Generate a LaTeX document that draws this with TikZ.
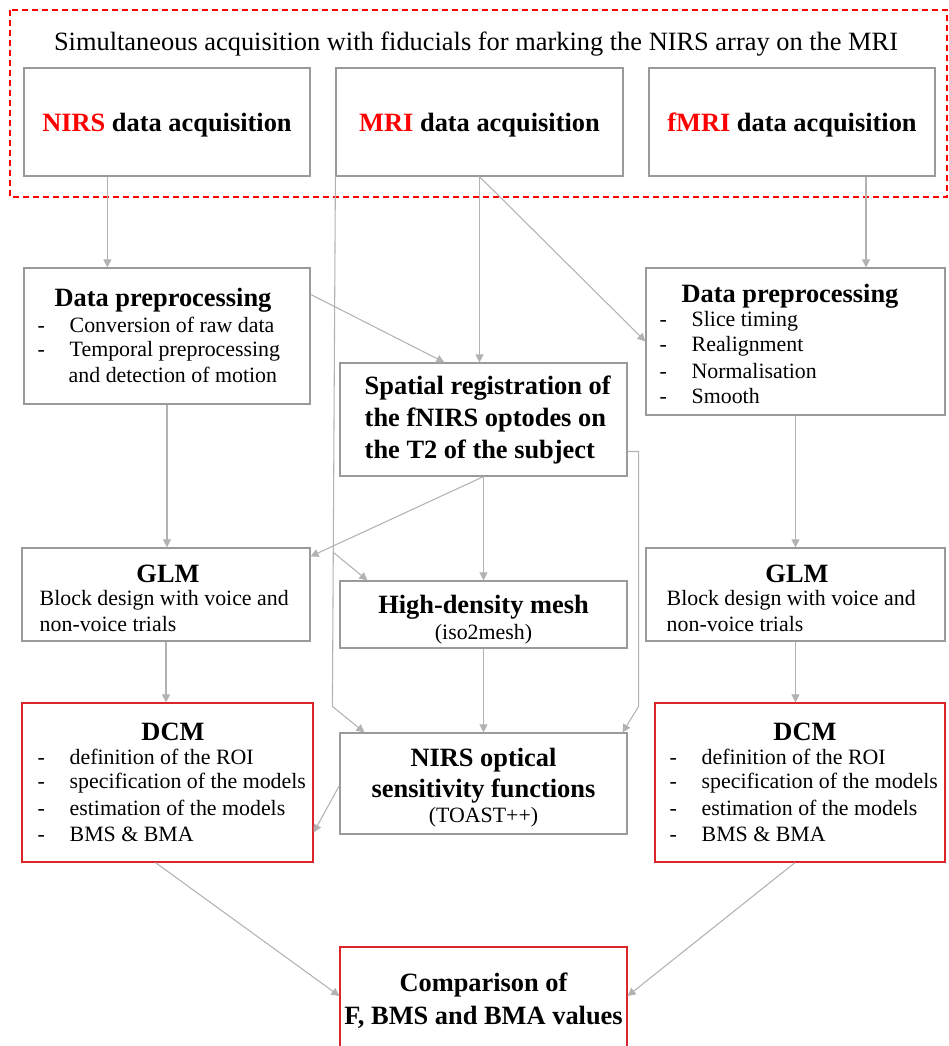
\documentclass[tikz,border=0pt]{standalone}
\usepackage{fontspec}
\setmainfont{Liberation Serif}
\usetikzlibrary{arrows.meta,calc}
\definecolor{boxgray}{HTML}{9A9A9A}
\definecolor{linegray}{HTML}{B2B2B2}
\definecolor{hired}{HTML}{FF0000}
\definecolor{boxred}{HTML}{D9262B}
\newcommand{\bul}{\makebox[24pt][l]{-}}
\tikzset{
  box/.style n args={2}{draw=boxgray, line width=0.9pt, minimum width=#1*0.75pt, minimum height=#2*0.75pt, inner sep=0pt},
  redbox/.style n args={2}{box={#1}{#2}, draw=boxred},
  link/.style={draw=linegray, line width=0.8pt, ->, >={Triangle[length=6pt,width=6pt]}},
  headfont/.style={font=\fontsize{19.8}{23}\selectfont\bfseries},
  head/.style={headfont, yshift=-2.2pt},
  item/.style={font=\fontsize{16.4}{19}\selectfont, anchor=west},
  plain/.style={font=\fontsize{16.4}{19}\selectfont, yshift=-1.2pt},
}
\begin{document}
\begin{tikzpicture}[x=0.75pt,y=-0.75pt]
  \clip (0,0) rectangle (949,1046);
  % simultaneous acquisition
  \draw[hired, line width=1pt, dash pattern=on 4.5pt off 3pt] (10,10) rectangle (947,197);
  \node[font=\fontsize{19.8}{24}\selectfont] (title) at (476,44.5) {Simultaneous acquisition with fiducials for marking the NIRS array on the MRI};
  \node[box={286}{108}, headfont, text depth=0pt] (nacq) at (167,122) {\textcolor{hired}{NIRS} data acquisition};
  \node[box={287}{108}, headfont, text depth=0pt] (macq) at (479.5,122) {\textcolor{hired}{MRI} data acquisition};
  \node[box={286}{108}, headfont, text depth=0pt] (facq) at (792,122) {\textcolor{hired}{fMRI} data acquisition};

  % preprocessing
  \node[box={286}{136}] (ndp) at (167,336) {};
  \node[head] at (163,297) {Data preprocessing};
  \node[item] at (33,325) {\bul Conversion of raw data};
  \node[item] at (33,351) {\bul Temporal preprocessing};
  \node[item] at (64,375) {and detection of motion};

  \node[box={287}{113}] (sreg) at (483.5,419.5) {};
  \node[head, anchor=west] at (360,385) {Spatial registration of};
  \node[head, anchor=west] at (360,417) {the fNIRS optodes on};
  \node[head, anchor=west] at (360,449) {the T2 of the subject};

  \node[box={299}{147}] (fdp) at (795.5,341.5) {};
  \node[head] at (790,293) {Data preprocessing};
  \node[item] at (655,321) {\bul Slice timing};
  \node[item] at (655,346) {\bul Realignment};
  \node[item] at (655,371) {\bul Normalisation};
  \node[item] at (655,396) {\bul Smooth};

  % GLM
  \node[box={288}{93}] (nglm) at (166,594.5) {};
  \node[head] at (168,571) {GLM};
  \node[item] at (35,600) {Block design with voice and};
  \node[item] at (35,624) {non-voice trials};

  \node[box={287}{67}] (mesh) at (483.5,614.5) {};
  \node[head] at (483.5,604) {High-density mesh};
  \node[plain] at (483.5,633) {(iso2mesh)};

  \node[box={299}{93}] (fglm) at (795.5,594.5) {};
  \node[head] at (797,571) {GLM};
  \node[item] at (662,600) {Block design with voice and};
  \node[item] at (662,624) {non-voice trials};

  % DCM
  \node[redbox={291}{159}] (ndcm) at (167.5,782.5) {};
  \node[head] at (173,729) {DCM};
  \foreach \y/\t in {757/definition of the ROI, 783/specification of the models, 808/estimation of the models, 834/BMS \& BMA}
    \node[item] at (33,\y) {\bul \t};

  \node[box={287}{101}] (optic) at (483.5,783.5) {};
  \node[head] at (483.5,757) {NIRS optical};
  \node[head] at (483.5,788) {sensitivity functions};
  \node[plain] at (483.5,816) {(TOAST++)};

  \node[redbox={290}{159}] (fdcm) at (800,782.5) {};
  \node[head] at (805,729) {DCM};
  \foreach \y/\t in {757/definition of the ROI, 783/specification of the models, 808/estimation of the models, 834/BMS \& BMA}
    \node[item] at (665,\y) {\bul \t};

  % comparison
  \node[redbox={287}{116}] (comp) at (483.5,1005) {};
  \node[head] at (483.5,982) {Comparison of};
  \node[head] at (483.5,1014) {F, BMS and BMA values};

  % connectors
  \coordinate (ndown) at ($(nacq.south west)+(84,0)$);
  \coordinate (fdown) at ($(facq.south)+(74,0)$);
  \coordinate (lbend) at ($(optic.north west)+(-7,-26)$);
  \coordinate (rbend) at ($(optic.north east)+(11,-26)$);
  \draw[link] (ndown) -- (ndown |- ndp.north);
  \draw[link] (macq.south) -- (macq.south |- sreg.north);
  \draw[link] (macq.south) -- ($(fdp.north west)+(0,74)$);
  \draw[link] (fdown) -- (fdown |- fdp.north);
  \draw[link] ($(ndp.north east)+(0,27)$) -- ($(sreg.north west)+(105,0)$);
  \draw[link] (ndp.south) -- (ndp.south |- nglm.north);
  \draw[link] (sreg.south) -- ($(nglm.north east)+(0,9)$);
  \draw[link] (sreg.south) -- (mesh.north);
  \draw[link] (macq.south west) -- (lbend) -- ($(optic.north west)+(25,0)$);
  \draw[link] ($(mesh.north west)+(-6,-28)$) -- ($(mesh.north west)+(28,0)$);
  \draw[link] ($(sreg.east)+(0,32)$) -| (rbend) -- ($(optic.north east)+(-5,0)$);
  \draw[link] (mesh.south) -- (optic.north);
  \draw[link] (nglm.south) -- (nglm.south |- ndcm.north);
  \draw[link] ($(optic.west)+(0,2)$) -- ($(ndcm.east)+(0,50)$);
  \draw[link] (fdp.south) -- (fdp.south |- fglm.north);
  \draw[link] (fglm.south) -- (fglm.south |- fdcm.north);
  \draw[link] ($(ndcm.south)+(-12,0)$) -- ($(comp.west)+(0,-9)$);
  \draw[link] ($(fdcm.south)+(-5,0)$) -- ($(comp.east)+(0,-9)$);
\end{tikzpicture}
\end{document}
